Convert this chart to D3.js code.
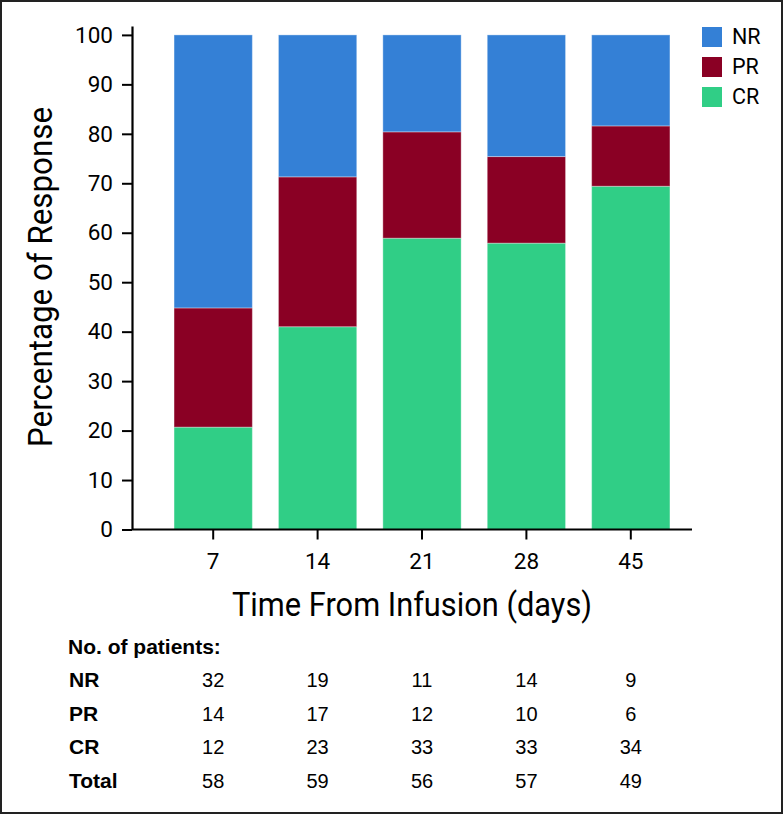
<!DOCTYPE html>
<html>
<head>
<meta charset="utf-8">
<script src="https://cdn.jsdelivr.net/npm/d3@7"></script>
<style>
  body { margin: 0; background: #fff; }
  svg { display: block; }
</style>
</head>
<body>
<div id="chart"></div>
<script>
// data
let days = ["7", "14", "21", "28", "45"];
let series = ["CR", "PR", "NR"];
let pctCR = [20.7, 41.0, 58.9, 57.9, 69.4];
let pctPR = [24.1, 30.3, 21.5, 17.5, 12.2];
let pctNR = [55.2, 28.7, 19.6, 24.6, 18.4];
let yTicks = [0, 10, 20, 30, 40, 50, 60, 70, 80, 90, 100];
let tableRows = ["NR", "PR", "CR", "Total"];
let countNR = [32, 19, 11, 14, 9];
let countPR = [14, 17, 12, 10, 6];
let countCR = [12, 23, 33, 33, 34];
let countTotal = [58, 59, 56, 57, 49];

let colors = {NR: "#3480d6", PR: "#8a0024", CR: "#30ce86"};

let W = 784, H = 815;
let margin = {top: 26, left: 132, right: 92, bottom: 285.5};
let width = W - margin.left - margin.right,   // 560
    height = H - margin.top - margin.bottom;  // 503.5

let svg = d3.select("#chart")
  .append("svg")
  .attr("width", W)
  .attr("height", H);

// frame
svg.append("rect")
  .attr("x", 1).attr("y", 1)
  .attr("width", W - 3).attr("height", H - 3)
  .attr("fill", "none")
  .attr("stroke", "#222")
  .attr("stroke-width", 2);

let g = svg.append("g")
  .attr("transform", "translate(" + margin.left + "," + margin.top + ")");

// scales
let x = d3.scaleBand()
  .domain(days)
  .range([29, 551])
  .paddingInner(0.25)
  .paddingOuter(0.125);

let y = d3.scaleLinear()
  .domain([0, 101.8])
  .range([height, 0]);

// stacked data
let rows = days.map(function(d, i) {
  return {day: d, CR: pctCR[i], PR: pctPR[i], NR: pctNR[i]};
});
let stacked = d3.stack().keys(series)(rows);

g.append("g")
  .selectAll("g")
  .data(stacked)
  .enter()
  .append("g")
    .attr("fill", function(d) { return colors[d.key]; })
  .selectAll("rect")
  .data(function(d) { return d; })
  .enter()
  .append("rect")
    .attr("x", function(d) { return x(d.data.day); })
    .attr("y", function(d) { return y(d[1]); })
    .attr("width", x.bandwidth())
    .attr("height", function(d) { return y(d[0]) - y(d[1]); })
    .attr("stroke", "#fff")
    .attr("stroke-opacity", 0.35)
    .attr("stroke-width", 1);

let tickFont = "Roboto, 'Liberation Sans', sans-serif";

// Y axis
let yAxis = g.append("g")
  .call(d3.axisLeft(y)
    .tickValues(yTicks)
    .tickSize(10)
    .tickPadding(9)
    .tickSizeOuter(0));
yAxis.select(".domain").attr("stroke", "#000").attr("stroke-width", 2.2);
yAxis.selectAll(".tick line").attr("stroke", "#000").attr("stroke-width", 2);
yAxis.selectAll(".tick text")
  .attr("font-family", tickFont)
  .attr("font-size", 22.5)
  .attr("fill", "#000");

// X axis
let xAxis = g.append("g")
  .attr("transform", "translate(0," + height + ")")
  .call(d3.axisBottom(x).tickSize(10).tickPadding(14).tickSizeOuter(0));
xAxis.select(".domain").remove();
xAxis.append("line")
  .attr("x1", 0).attr("x2", width)
  .attr("stroke", "#000").attr("stroke-width", 2.2);
xAxis.selectAll(".tick line").attr("stroke", "#000").attr("stroke-width", 2);
xAxis.selectAll(".tick text")
  .attr("font-family", tickFont)
  .attr("font-size", 22.5)
  .attr("fill", "#000");

// axis titles
svg.append("text")
  .attr("transform", "translate(52,277) rotate(-90)")
  .attr("text-anchor", "middle")
  .attr("font-family", tickFont)
  .attr("font-size", 33)
  .attr("textLength", 340)
  .attr("lengthAdjust", "spacingAndGlyphs")
  .text("Percentage of Response");

svg.append("text")
  .attr("x", 412)
  .attr("y", 616)
  .attr("text-anchor", "middle")
  .attr("font-family", tickFont)
  .attr("font-size", 33)
  .attr("textLength", 360)
  .attr("lengthAdjust", "spacingAndGlyphs")
  .text("Time From Infusion (days)");

// legend
let legendKeys = ["NR", "PR", "CR"];
let legend = svg.append("g")
  .selectAll("g")
  .data(legendKeys)
  .enter()
  .append("g")
    .attr("transform", function(d, i) { return "translate(702," + (27 + i * 30) + ")"; });
legend.append("rect")
  .attr("width", 20).attr("height", 20)
  .attr("fill", function(d) { return colors[d]; });
legend.append("text")
  .attr("x", 30).attr("y", 17)
  .attr("font-family", tickFont)
  .attr("font-size", 21.5)
  .text(function(d) { return d; });

// patient table
let tableFont = "'Liberation Sans', Arial, sans-serif";
svg.append("text")
  .attr("x", 68).attr("y", 654)
  .attr("font-family", tableFont)
  .attr("font-size", 21)
  .attr("font-weight", "bold")
  .text("No. of patients:");

let counts = {NR: countNR, PR: countPR, CR: countCR, Total: countTotal};
let rowY = d3.scalePoint().domain(tableRows).range([687, 787.5]);

let tRows = svg.append("g")
  .selectAll("g")
  .data(tableRows)
  .enter()
  .append("g")
    .attr("transform", function(d) { return "translate(0," + rowY(d) + ")"; });

tRows.append("text")
  .attr("x", 69)
  .attr("font-family", tableFont)
  .attr("font-size", 21)
  .attr("font-weight", "bold")
  .text(function(d) { return d; });

tRows.selectAll("text.val")
  .data(function(r) { return counts[r].map(function(v, i) { return {v: v, day: days[i]}; }); })
  .enter()
  .append("text")
    .attr("class", "val")
    .attr("x", function(d) { return margin.left + x(d.day) + x.bandwidth() / 2; })
    .attr("text-anchor", "middle")
    .attr("font-family", tableFont)
    .attr("font-size", 20)
    .text(function(d) { return d.v; });
</script>
</body>
</html>
